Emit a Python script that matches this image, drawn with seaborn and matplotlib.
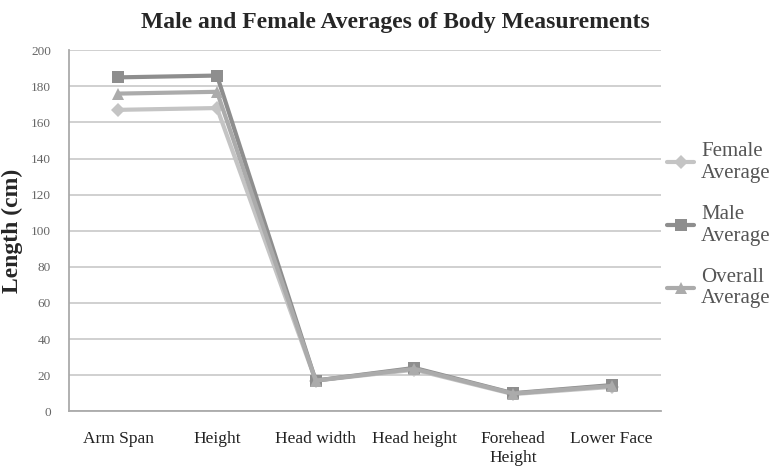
import numpy as np
import pandas as pd
import seaborn as sns
import matplotlib.pyplot as plt
from matplotlib.ticker import FixedLocator

# Dados
medidas = ["Arm Span", "Height", "Head width", "Head height", "Forehead\nHeight", "Lower Face"]
female_avg = [167, 168, 17, 23, 9.5, 13.5]
male_avg = [185, 186, 17, 24, 10, 14.5]
overall_avg = [176, 177, 17, 23.5, 9.8, 14]

series = ["Female\nAverage", "Male\nAverage", "Overall\nAverage"]

df = pd.DataFrame({
    "medida": medidas * 3,
    "pos": list(range(len(medidas))) * 3,
    "valor": female_avg + male_avg + overall_avg,
    "serie": [s for s in series for _ in medidas],
})

sns.set_style("white")
plt.rcParams["font.family"] = ["Liberation Serif", "DejaVu Serif"]

fig, ax = plt.subplots(figsize=(7.75, 4.7), dpi=100)
fig.subplots_adjust(left=0.089, right=0.853, top=0.893, bottom=0.125)

cores = {series[0]: "#c4c4c4", series[1]: "#8e8e8e", series[2]: "#ababab"}
marcadores = {series[0]: "D", series[1]: "s", series[2]: "^"}
tamanhos = {series[0]: 7, series[1]: 8, series[2]: 8}

for s in series:
    sub = df[df["serie"] == s]
    sns.lineplot(data=sub, x="pos", y="valor", color=cores[s], marker=marcadores[s],
                 markersize=tamanhos[s], markeredgewidth=0, linewidth=3,
                 label=s, ax=ax, zorder=3)

ax.set_xlim(-0.5, len(medidas) - 0.5)
ax.set_ylim(0, 200)
ax.set_yticks(np.arange(0, 201, 20))
ax.yaxis.grid(True, color="#c8c8c8", linewidth=1.2)
ax.set_axisbelow(True)

ax.set_xticks(range(len(medidas)))
ax.set_xticklabels(medidas, fontsize=12.5, color="#222222", linespacing=1.3)
ax.xaxis.set_minor_locator(FixedLocator(np.arange(-0.5, len(medidas), 1.0)))
ax.tick_params(axis="x", which="major", length=0, pad=14)
ax.tick_params(axis="x", which="minor", length=5, color="#aaaaaa", width=1.2)
ax.tick_params(axis="y", length=5, color="#aaaaaa", width=1.2, labelsize=9.5, labelcolor="#666666", pad=8)

for lado in ["top", "right"]:
    ax.spines[lado].set_visible(False)
for lado in ["left", "bottom"]:
    ax.spines[lado].set_color("#aaaaaa")
    ax.spines[lado].set_linewidth(1.3)

ax.set_xlabel("")
ax.set_ylabel("Length (cm)", fontsize=17, fontweight="bold", labelpad=6)
fig.suptitle("Male and Female Averages of Body Measurements", fontsize=17,
             fontweight="bold", x=0.51, y=0.975)

leg = ax.legend(loc="center left", bbox_to_anchor=(1.01, 0.515), frameon=False,
                fontsize=15, labelspacing=1.05, handlelength=1.3, handletextpad=0.33,
                borderaxespad=0, borderpad=0, labelcolor="#555555")

fig.savefig("out.png", dpi=100)
